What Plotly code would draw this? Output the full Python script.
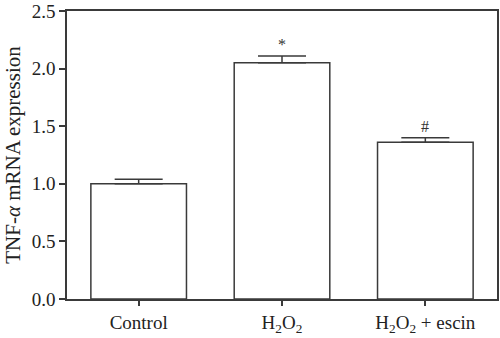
import plotly.graph_objects as go

categories = ["Control", "H<sub>2</sub>O<sub>2</sub>", "H<sub>2</sub>O<sub>2</sub> + escin"]
expression = [1.0, 2.05, 1.36]
sem = [0.04, 0.06, 0.04]
marks = ["", "*", "#"]
y_ticks = [0.0, 0.5, 1.0, 1.5, 2.0, 2.5]

x_pos = list(range(len(categories)))
line_col = "#3a3a3a"
serif = "Liberation Serif"

fig = go.Figure()
fig.add_trace(go.Bar(
    x=x_pos, y=expression, width=0.667,
    marker=dict(color="white", line=dict(color=line_col, width=1.5)),
    error_y=dict(type="data", array=sem, arrayminus=[0] * len(sem), symmetric=False,
                 color=line_col, thickness=1.5, width=24),
))

for xi, v, e, m in zip(x_pos, expression, sem, marks):
    if m:
        fig.add_annotation(x=xi, y=v + e, text=m, showarrow=False,
                           yanchor="bottom", yshift=1,
                           font=dict(family=serif, size=16, color="#333"))

fig.update_layout(
    width=500, height=338,
    margin=dict(l=67, r=1, t=11, b=39),
    paper_bgcolor="white", plot_bgcolor="white",
    font=dict(family=serif, size=19, color="#222"), showlegend=False,
    xaxis=dict(range=[-0.5, 2.5], tickvals=x_pos, ticktext=categories,
               tickfont=dict(family=serif, size=19, color="#222"),
               showline=True, linecolor=line_col, linewidth=1.5, mirror=True,
               ticks="outside", ticklen=5, tickwidth=1.5, tickcolor=line_col,
               showgrid=False, zeroline=False),
    yaxis=dict(range=[0, 2.5], tickvals=y_ticks, ticktext=[f"{t:.1f}" for t in y_ticks],
               tickfont=dict(family=serif, size=19, color="#222"),
               showline=True, linecolor=line_col, linewidth=1.5, mirror=True,
               ticks="outside", ticklen=6, tickwidth=1.5, tickcolor=line_col,
               showgrid=False, zeroline=False,
               title=dict(text="TNF-<i>α</i> mRNA expression",
                          font=dict(family=serif, size=21, color="#222"), standoff=5)),
)

fig.write_html("out.html")
